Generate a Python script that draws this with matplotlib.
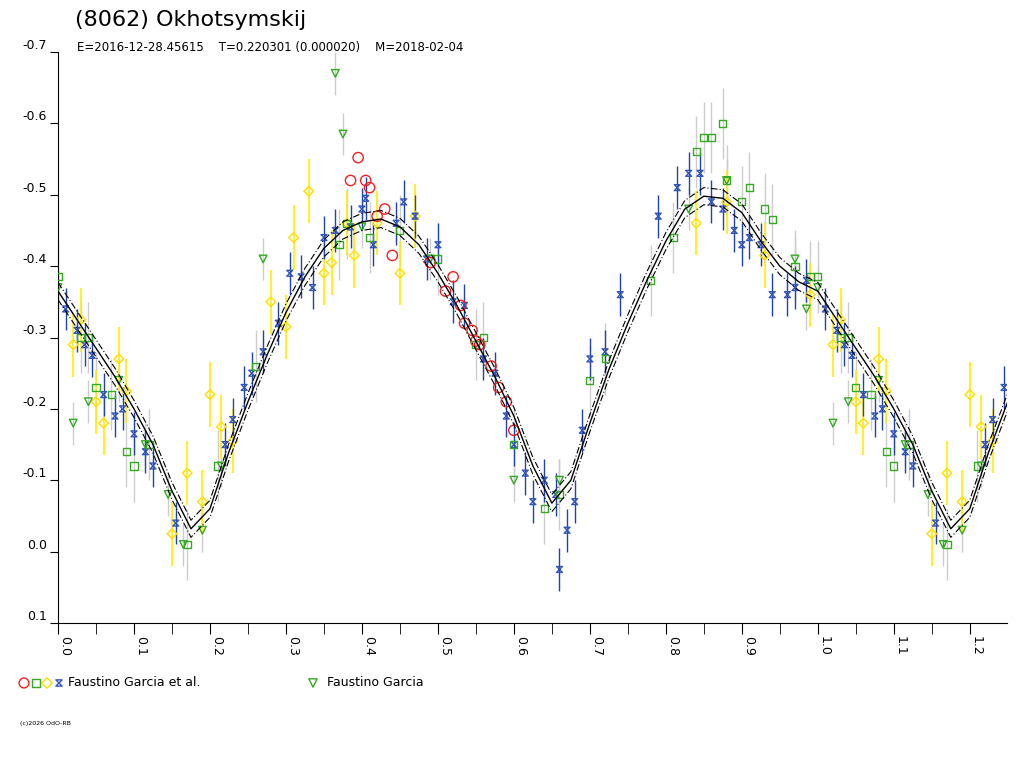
import numpy as np
import matplotlib
matplotlib.use("Agg")
import matplotlib.pyplot as plt
from matplotlib.path import Path

# fit curve (phase, mag)
curve_ph = [0.0, 0.025, 0.05, 0.075, 0.1, 0.125, 0.15, 0.175, 0.2, 0.225, 0.25, 0.275, 0.3, 0.325,
            0.35, 0.375, 0.4, 0.425, 0.45, 0.475, 0.5, 0.525, 0.55, 0.575, 0.6, 0.625, 0.65, 0.675,
            0.7, 0.725, 0.75, 0.775, 0.8, 0.825, 0.85, 0.875, 0.9, 0.925, 0.95, 0.975, 1.0]
curve_mag = [-0.365, -0.325, -0.285, -0.245, -0.200, -0.150, -0.085, -0.032, -0.060, -0.140,
             -0.210, -0.275, -0.335, -0.385, -0.425, -0.450, -0.462, -0.466, -0.455, -0.430,
             -0.390, -0.345, -0.295, -0.245, -0.190, -0.120, -0.068, -0.100, -0.180, -0.255,
             -0.320, -0.380, -0.435, -0.480, -0.498, -0.495, -0.475, -0.435, -0.400, -0.378, -0.365]

red_ph = [0.385, 0.395, 0.405, 0.41, 0.42, 0.43, 0.44, 0.49, 0.51, 0.52, 0.53, 0.535, 0.545, 0.55,
          0.555, 0.57, 0.58, 0.59, 0.6]
red_mag = [-0.52, -0.552, -0.52, -0.51, -0.47, -0.48, -0.415, -0.405, -0.365, -0.385, -0.345, -0.32,
           -0.31, -0.295, -0.29, -0.26, -0.23, -0.21, -0.17]

sq_ph = [0.0, 0.03, 0.04, 0.05, 0.07, 0.09, 0.1, 0.12, 0.17, 0.21, 0.26, 0.37, 0.38, 0.41, 0.45, 0.5,
         0.55, 0.56, 0.6, 0.64, 0.66, 0.7, 0.72, 0.78, 0.81, 0.84, 0.85, 0.86, 0.875, 0.88, 0.9, 0.91,
         0.93, 0.94, 0.97, 0.99]
sq_mag = [-0.385, -0.3, -0.3, -0.23, -0.22, -0.14, -0.12, -0.15, -0.01, -0.12, -0.26, -0.43, -0.46,
          -0.44, -0.45, -0.41, -0.29, -0.30, -0.15, -0.06, -0.08, -0.24, -0.27, -0.38, -0.44, -0.56,
          -0.58, -0.58, -0.60, -0.52, -0.49, -0.51, -0.48, -0.465, -0.40, -0.385]

dia_ph = [0.02, 0.03, 0.05, 0.06, 0.08, 0.09, 0.15, 0.17, 0.19, 0.2, 0.215, 0.23, 0.28, 0.3, 0.31,
          0.33, 0.35, 0.36, 0.38, 0.39, 0.42, 0.45, 0.47, 0.84, 0.88, 0.93, 0.99]
dia_mag = [-0.29, -0.325, -0.21, -0.18, -0.27, -0.225, -0.025, -0.11, -0.07, -0.22, -0.175, -0.155,
           -0.35, -0.315, -0.44, -0.505, -0.39, -0.405, -0.46, -0.415, -0.46, -0.39, -0.47, -0.46,
           -0.49, -0.415, -0.36]

hg_ph = [0.01, 0.025, 0.035, 0.045, 0.06, 0.075, 0.085, 0.1, 0.115, 0.125, 0.155, 0.22, 0.23, 0.245,
         0.255, 0.27, 0.29, 0.305, 0.32, 0.335, 0.35, 0.365, 0.385, 0.4, 0.405, 0.415, 0.445, 0.455,
         0.47, 0.485, 0.5, 0.52, 0.535, 0.56, 0.575, 0.59, 0.6, 0.615, 0.625, 0.64, 0.655, 0.66, 0.67,
         0.68, 0.69, 0.7, 0.72, 0.74, 0.79, 0.815, 0.83, 0.845, 0.86, 0.875, 0.89, 0.9, 0.91, 0.925,
         0.94, 0.96, 0.97, 0.985]
hg_mag = [-0.34, -0.31, -0.29, -0.275, -0.22, -0.19, -0.2, -0.165, -0.14, -0.12, -0.04, -0.15, -0.185,
          -0.23, -0.25, -0.28, -0.32, -0.39, -0.385, -0.37, -0.44, -0.45, -0.455, -0.48, -0.495, -0.43,
          -0.46, -0.49, -0.47, -0.41, -0.43, -0.35, -0.345, -0.27, -0.25, -0.19, -0.15, -0.11, -0.07,
          -0.1, -0.08, 0.025, -0.03, -0.07, -0.17, -0.27, -0.28, -0.36, -0.47, -0.51, -0.53, -0.53,
          -0.49, -0.48, -0.45, -0.43, -0.44, -0.43, -0.36, -0.36, -0.37, -0.38]

tri_ph = [0.0, 0.02, 0.04, 0.08, 0.115, 0.145, 0.165, 0.19, 0.215, 0.27, 0.365, 0.375, 0.4, 0.49,
          0.6, 0.66, 0.83, 0.88, 0.97, 0.985]
tri_mag = [-0.37, -0.18, -0.21, -0.24, -0.15, -0.08, -0.01, -0.03, -0.12, -0.41, -0.67, -0.585,
           -0.455, -0.41, -0.1, -0.1, -0.48, -0.52, -0.41, -0.34]

hg_err = 0.03
dia_err = 0.045
grey_err = 0.05

XMAX = 1.249


def wrap(ph, mag):
    ph = np.asarray(ph, float)
    mag = np.asarray(mag, float)
    extra = ph < (XMAX - 1)
    return np.concatenate([ph, ph[extra] + 1]), np.concatenate([mag, mag[extra]])


hourglass = Path([(-1, -1), (1, -1), (-1, 1), (1, 1), (-1, -1)],
                 [Path.MOVETO, Path.LINETO, Path.LINETO, Path.LINETO, Path.CLOSEPOLY])

fig = plt.figure(figsize=(10.24, 7.68), dpi=100)
ax = fig.add_axes([58 / 1024, 145 / 768, 949 / 1024, 571 / 768])

# curve, repeated for phases > 1
cph = np.asarray(curve_ph)
cmag = np.asarray(curve_mag)
cx = np.concatenate([cph, cph[1:] + 1])
cy = np.concatenate([cmag, cmag[1:]])
ax.plot(cx, cy, color="black", lw=1.0, zorder=5)
ax.plot(cx, cy - 0.012, color="black", lw=0.8, ls=(0, (6, 2, 1, 2)), zorder=5)
ax.plot(cx, cy + 0.012, color="black", lw=0.8, ls=(0, (6, 2, 1, 2)), zorder=5)

# grey background error bars
gx, gy = wrap(sq_ph, sq_mag)
ax.errorbar(gx, gy, yerr=grey_err, fmt="none", ecolor="#cccccc", elinewidth=1, zorder=1)
tx, ty = wrap(tri_ph, tri_mag)
ax.errorbar(tx, ty, yerr=grey_err * 0.6, fmt="none", ecolor="#cccccc", elinewidth=1, zorder=1)

x, y = wrap(dia_ph, dia_mag)
ax.errorbar(x, y, yerr=dia_err, fmt="none", ecolor="#ffee00", elinewidth=1.2, zorder=2)
ax.scatter(x, y, marker="D", s=24, facecolors="none", edgecolors="#ffdd00", linewidths=1, zorder=3)

x, y = wrap(hg_ph, hg_mag)
ax.errorbar(x, y, yerr=hg_err, fmt="none", ecolor="#2244aa", elinewidth=1, zorder=2)
ax.scatter(x, y, marker=hourglass, s=18, facecolors="none", edgecolors="#3355bb", linewidths=1, zorder=3)

ax.scatter(gx, gy, marker="s", s=26, facecolors="none", edgecolors="#33aa22", linewidths=1, zorder=3)
ax.scatter(tx, ty, marker="v", s=30, facecolors="none", edgecolors="#33aa22", linewidths=1, zorder=3)

x, y = wrap(red_ph, red_mag)
ax.scatter(x, y, marker="o", s=55, facecolors="none", edgecolors="#ee2222", linewidths=1, zorder=3)

ax.set_xlim(0, XMAX)
ax.set_ylim(0.1, -0.7)
ax.spines["top"].set_visible(False)
ax.spines["right"].set_visible(False)
xt = np.arange(0, 1.21, 0.1)
ax.set_xticks(xt)
ax.set_xticks(np.arange(0.05, 1.25, 0.1), minor=True)
ax.set_xticklabels([f"{v:.1f}" for v in xt], rotation=-90, fontsize=9)
ax.set_yticks(np.arange(-0.7, 0.11, 0.1))
ax.set_yticklabels(["-0.7", "-0.6", "-0.5", "-0.4", "-0.3", "-0.2", "-0.1", "0.0", "0.1"], fontsize=9)
ax.tick_params(axis="x", which="both", length=8, direction="out", pad=1)
ax.tick_params(axis="y", length=6, direction="out", pad=2)
for lab in ax.get_yticklabels():
    lab.set_verticalalignment("bottom")
for lab in ax.get_xticklabels():
    lab.set_horizontalalignment("left")

fig.text(75 / 1024, 1 - 20 / 768, "(8062) Okhotsymskij", fontsize=16, va="center")
fig.text(77 / 1024, 1 - 48 / 768,
         "E=2016-12-28.45615    T=0.220301 (0.000020)    M=2018-02-04", fontsize=8.5, va="center")

# legend
ax_l = fig.add_axes([0, 0, 1, 1], facecolor="none")
ax_l.set_axis_off()
ax_l.set_xlim(0, 1024)
ax_l.set_ylim(768, 0)
ax_l.scatter([24], [683], marker="o", s=50, facecolors="none", edgecolors="#ee2222")
ax_l.scatter([36], [683], marker="s", s=30, facecolors="none", edgecolors="#33aa22")
ax_l.scatter([47], [683], marker="D", s=28, facecolors="none", edgecolors="#ffdd00")
ax_l.scatter([59], [683], marker=hourglass, s=20, facecolors="none", edgecolors="#3355bb")
ax_l.text(68, 683, "Faustino Garcia et al.", fontsize=9, va="center")
ax_l.scatter([313], [683], marker="v", s=36, facecolors="none", edgecolors="#33aa22")
ax_l.text(327, 683, "Faustino Garcia", fontsize=9, va="center")
ax_l.text(20, 723, "(c)2026 OdO-RB", fontsize=4.5, va="center")

fig.savefig("out.png", dpi=100)
